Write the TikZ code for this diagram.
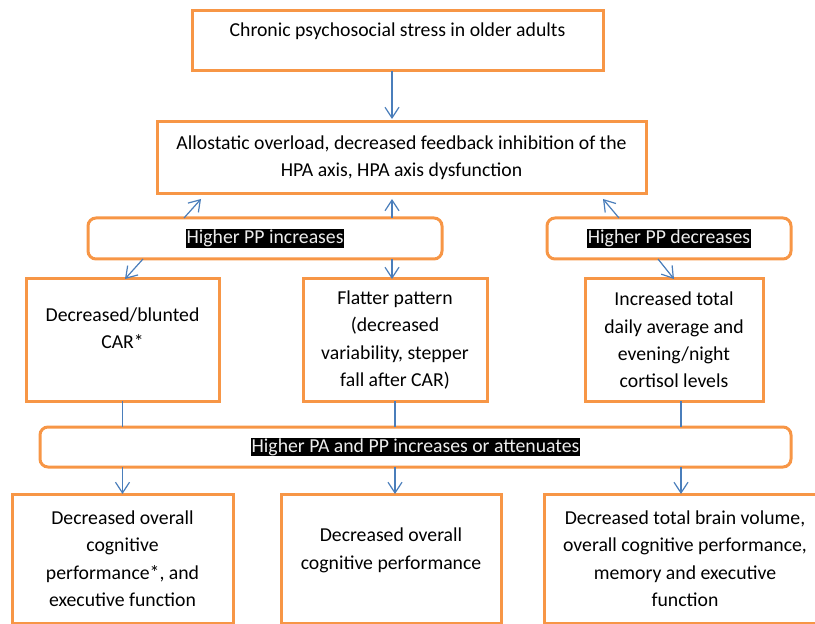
\documentclass[tikz,border=0pt]{standalone}
\usepackage{fontspec}
\setmainfont{Carlito}
\usepackage{xcolor}
\usepackage{tikz}
\usetikzlibrary{arrows.meta, positioning}
\definecolor{boxorange}{HTML}{F79646}
\definecolor{arrowblue}{HTML}{4A7EBB}
\newcommand{\hl}[1]{{\setlength{\fboxsep}{0.4pt}\colorbox{black}{\textcolor{white!93!black}{\vphantom{Hg}#1}}}}
\tikzset{
	box/.style={rectangle, draw=boxorange, line width=2.25pt, inner sep=0pt, outer sep=0pt,
		align=center, font=\fontsize{14.8}{20.6}\selectfont},
	bar/.style={box, rounded corners=6pt, minimum height=30.75pt},
	arr/.style={-{Straight Barb[length=8pt, width=10.5pt]}, arrowblue, line width=0.9pt},
	ln/.style={arrowblue, line width=0.9pt},
}

\begin{document}
\begin{tikzpicture}
	\useasboundingbox (0,0) rectangle (611.25pt,-468pt);
	
	\node[box, minimum width=308.25pt, minimum height=45pt, text height=10pt, text depth=16.5pt] (stress) at (298.125pt,-30.75pt) {Chronic psychosocial stress in older adults};
	\node[box, minimum width=366.75pt, minimum height=54pt, below=38.25pt of stress, xshift=3pt] (hpa) {Allostatic overload, decreased feedback inhibition of the\\HPA axis, HPA axis dysfunction};
	
	\node[bar, minimum width=265.5pt, below=18pt of hpa, xshift=-102.375pt] (incr) {\hl{Higher PP increases}};
	\node[bar, minimum width=183pt, right=78.75pt of incr] (decr) {\hl{Higher PP decreases}};
	
	\node[box, minimum width=144.75pt, minimum height=91.5pt, below=15pt of incr, xshift=-106.875pt] (car) {Decreased/blunted\\CAR*\\[-3pt]\mbox{}};
	\node[box, minimum width=138pt, minimum height=91.5pt, right=63pt of car] (flat) {Flatter pattern\\(decreased\\variability, stepper\\fall after CAR)};
	\node[box, minimum width=133.5pt, minimum height=91.5pt, right=73.5pt of flat] (cort) {Increased total\\daily average and\\evening/night\\cortisol levels};
	
	\node[bar, minimum width=563.25pt, minimum height=30pt, below=19.5pt of flat, xshift=15.375pt] (pa) {\hl{Higher PA and PP increases or attenuates}};
	
	\node[box, minimum width=165pt, minimum height=96.75pt, below=20.25pt of pa, xshift=-18.375pt] (bm) {Decreased overall\\cognitive performance\\[-6pt]\mbox{}};
	\node[box, minimum width=165.75pt, minimum height=96.75pt, left=36pt of bm] (bl) {Decreased overall\\cognitive\\performance*, and\\executive function};
	\node[box, minimum width=211.5pt, minimum height=96.75pt, right=32.25pt of bm] (br) {Decreased total brain volume,\\overall cognitive performance,\\memory and executive\\function};
	
	\draw[arr] ([xshift=-4.125pt]stress.south) -- ([xshift=-7.125pt, yshift=2.25pt]hpa.north);
	
	\draw[arr] ([xshift=-60.75pt]incr.north) -- ([xshift=-150.375pt, yshift=-3.75pt]hpa.south);
	\draw[arr] ([xshift=95.25pt]incr.north) -- ([xshift=-7.125pt, yshift=-3.75pt]hpa.south);
	\draw[arr] ([xshift=-37.5pt]decr.north) -- ([xshift=151.125pt, yshift=-3.75pt]hpa.south);
	
	\draw[arr] ([xshift=-91.5pt]incr.south) -- ([xshift=1.875pt]car.north);
	\draw[arr] ([xshift=95.25pt]incr.south) -- ([xshift=-2.25pt]flat.north);
	\draw[arr] ([xshift=-8.25pt]decr.south) -- (cort.north);
	
	\coordinate (cortout) at ([xshift=5.25pt]cort.south);
	\draw[ln] (car.south) -- (car.south |- pa.north);
	\draw[ln] (flat.south) -- (flat.south |- pa.north);
	\draw[ln] (cortout) -- (cortout |- pa.north);
	
	\draw[arr] (car.south |- pa.south) -- (car.south |- bl.north);
	\draw[arr] (flat.south |- pa.south) -- (flat.south |- bm.north);
	\draw[arr] (cortout |- pa.south) -- (cortout |- br.north);
	
\end{tikzpicture}
\end{document}
